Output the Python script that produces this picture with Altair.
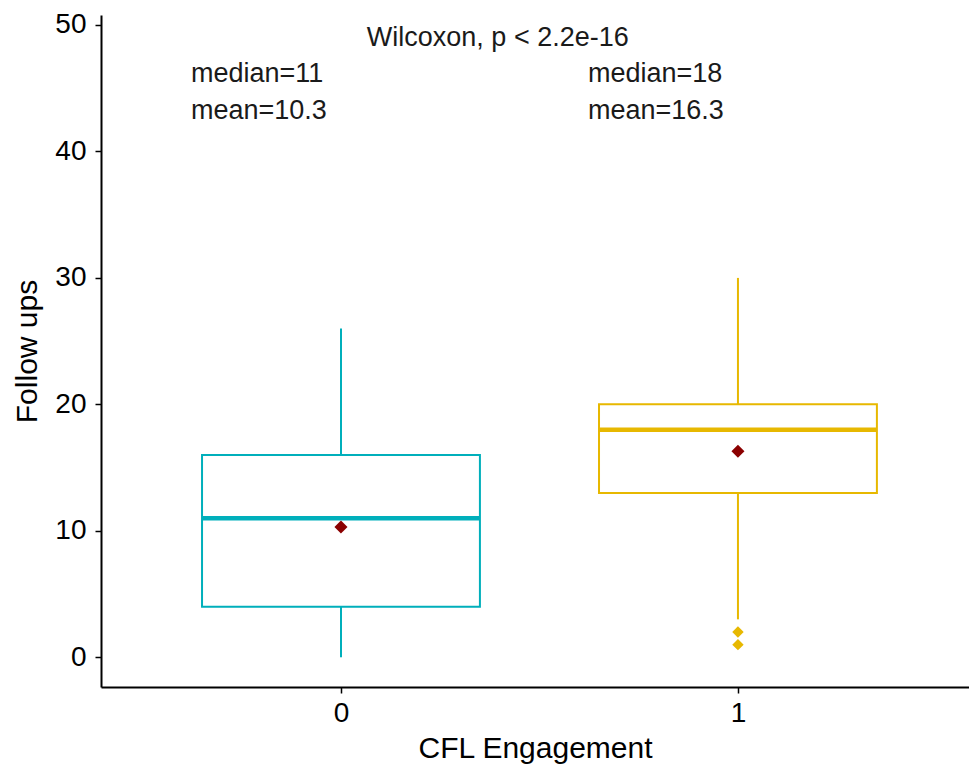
import altair as alt
import pandas as pd

# ---- data ----
groups = [0, 1]
group_names = ["0", "1"]
group_colors = ["#00AFBB", "#E7B800"]
lower_whisker = [0, 3]
q1 = [4, 13]
medians = [11, 18]
q3 = [16, 20]
upper_whisker = [26, 30]
means = [10.3, 16.3]
outlier_groups = [1, 1]
outlier_values = [2, 1]

note_text = ["median=11", "mean=10.3", "median=18", "mean=16.3"]
note_x = [-0.378, -0.378, 0.622, 0.622]
note_y = [45.5, 42.6, 45.5, 42.6]
test_text = ["Wilcoxon, p < 2.2e-16"]
test_x = [0.395]
test_y = [48.35]

BOX_HALF = 0.35
FONT = "Liberation Sans"

boxes = pd.DataFrame({
    "group": groups,
    "name": group_names,
    "lower": lower_whisker,
    "q1": q1,
    "median": medians,
    "q3": q3,
    "upper": upper_whisker,
    "mean": means,
})
outliers = pd.DataFrame({"group": outlier_groups,
                         "name": [group_names[g] for g in outlier_groups],
                         "value": outlier_values})
notes = pd.DataFrame({"text": note_text, "x": note_x, "y": note_y})
test = pd.DataFrame({"text": test_text, "x": test_x, "y": test_y})

xscale = alt.Scale(domain=[-0.6045, 1.582], nice=False, zero=False)
yscale = alt.Scale(domain=[-2.35, 50.79], nice=False, zero=False)
cscale = alt.Scale(domain=group_names, range=group_colors)

x_axis = alt.Axis(values=[0, 1], format="d", title="CFL Engagement", grid=False,
                  tickSize=6, labelPadding=6, titlePadding=6)
y_axis = alt.Axis(values=[0, 10, 20, 30, 40, 50], title="Follow ups", grid=False,
                  tickSize=6, labelPadding=9, titlePadding=12)

base = alt.Chart(boxes)

whisk_lo = base.mark_rule(strokeWidth=2).encode(
    x=alt.X("group:Q", scale=xscale, axis=x_axis),
    y=alt.Y("lower:Q", scale=yscale, axis=y_axis),
    y2="q1:Q",
    color=alt.Color("name:N", scale=cscale, legend=None),
)
whisk_hi = base.mark_rule(strokeWidth=2).encode(
    x=alt.X("group:Q", scale=xscale),
    y=alt.Y("q3:Q", scale=yscale),
    y2="upper:Q",
    color=alt.Color("name:N", scale=cscale, legend=None),
)
box = base.transform_calculate(
    xl=f"datum.group - {BOX_HALF}", xr=f"datum.group + {BOX_HALF}"
).mark_rect(fill="white", strokeWidth=2).encode(
    x=alt.X("xl:Q", scale=xscale),
    x2="xr:Q",
    y=alt.Y("q1:Q", scale=yscale),
    y2="q3:Q",
    stroke=alt.Stroke("name:N", scale=cscale, legend=None),
)
med = base.transform_calculate(
    xl=f"datum.group - {BOX_HALF}", xr=f"datum.group + {BOX_HALF}"
).mark_rule(strokeWidth=4.5).encode(
    x=alt.X("xl:Q", scale=xscale),
    x2="xr:Q",
    y=alt.Y("median:Q", scale=yscale),
    color=alt.Color("name:N", scale=cscale, legend=None),
)
mean_pts = base.mark_point(shape="diamond", filled=True, size=170, opacity=1,
                           color="#8B0000").encode(
    x=alt.X("group:Q", scale=xscale),
    y=alt.Y("mean:Q", scale=yscale),
)
out_pts = alt.Chart(outliers).mark_point(shape="diamond", filled=True, size=130,
                                         opacity=1).encode(
    x=alt.X("group:Q", scale=xscale),
    y=alt.Y("value:Q", scale=yscale),
    color=alt.Color("name:N", scale=cscale, legend=None),
)
note_layer = alt.Chart(notes).mark_text(
    align="left", baseline="alphabetic", font=FONT, fontSize=27, color="#1a1a1a"
).encode(
    x=alt.X("x:Q", scale=xscale),
    y=alt.Y("y:Q", scale=yscale),
    text="text:N",
)
test_layer = alt.Chart(test).mark_text(
    align="center", baseline="alphabetic", font=FONT, fontSize=27, color="#1a1a1a"
).encode(
    x=alt.X("x:Q", scale=xscale),
    y=alt.Y("y:Q", scale=yscale),
    text="text:N",
)

chart = alt.layer(
    whisk_lo, whisk_hi, box, med, mean_pts, out_pts, note_layer, test_layer
).properties(
    width=868, height=672,
    background="white",
    autosize=alt.AutoSizeParams(type="none"),
    padding={"left": 93, "top": 7, "right": 0, "bottom": 77},
).configure_view(stroke=None).configure_axis(
    domainColor="black", domainWidth=2, tickColor="black", tickWidth=1.5,
    labelColor="black", titleColor="black", labelFont=FONT, titleFont=FONT,
    labelFontSize=28, titleFontSize=30, titleFontWeight="normal",
)

chart.save("out.html", embed_options={"renderer": "svg", "actions": False})
